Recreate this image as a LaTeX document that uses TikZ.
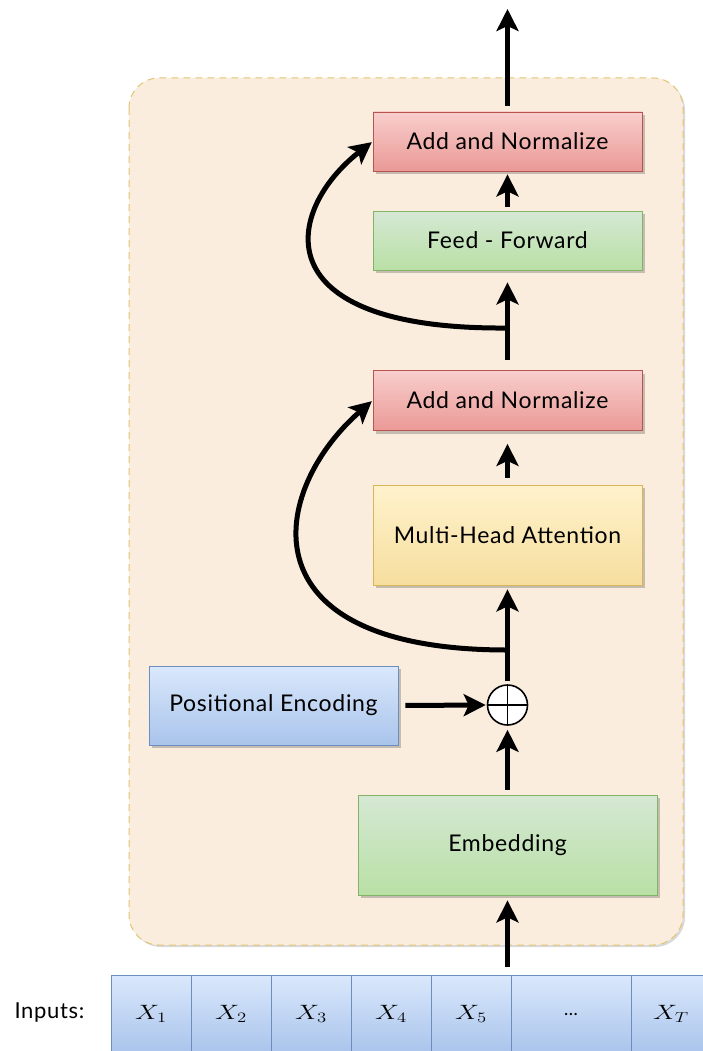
\documentclass[tikz,border=0pt]{standalone}
\usepackage{fontspec}
\setmainfont{Lato}[LetterSpace=3]
\usepackage{graphicx}
\usetikzlibrary{arrows.meta,shadows}
\definecolor{framefill}{RGB}{250,237,222}
\definecolor{framedraw}{RGB}{226,196,112}
\definecolor{redT}{RGB}{248,206,204}
\definecolor{redB}{RGB}{234,153,150}
\definecolor{redD}{RGB}{184,84,80}
\definecolor{grnT}{RGB}{213,232,212}
\definecolor{grnB}{RGB}{185,224,165}
\definecolor{grnD}{RGB}{130,179,102}
\definecolor{ylwT}{RGB}{255,242,204}
\definecolor{ylwB}{RGB}{246,222,158}
\definecolor{ylwD}{RGB}{214,182,86}
\definecolor{bluT}{RGB}{218,232,252}
\definecolor{bluB}{RGB}{169,196,235}
\definecolor{bluD}{RGB}{108,142,191}
\newcommand{\mx}[1]{\scalebox{1.3}[1]{$#1$}}
\tikzset{
  shad/.style={drop shadow={shadow xshift=3pt,shadow yshift=-3pt,opacity=0.3,fill=black!70}},
  box/.style={draw, line width=0.8pt, inner sep=0pt, font=\fontsize{23}{26}\selectfont, shad},
  redbox/.style={box, draw=redD, top color=redT, bottom color=redB},
  grnbox/.style={box, draw=grnD, top color=grnT, bottom color=grnB},
  ylwbox/.style={box, draw=ylwD, top color=ylwT, bottom color=ylwB},
  blubox/.style={box, draw=bluD, top color=bluT, bottom color=bluB},
  cell/.style={draw=bluD, line width=0.8pt, top color=bluT, bottom color=bluB, inner sep=0pt, font=\fontsize{22}{26}\selectfont},
  arr/.style={line width=5pt, -{Stealth[length=22pt,width=22pt,inset=5pt]}},
  frame/.style={draw=framedraw, line width=1pt, dash pattern=on 7pt off 5pt, fill=framefill, rounded corners=30pt,
    drop shadow={shadow xshift=2pt,shadow yshift=-2pt,opacity=0.25,fill=black!60}},
  lbl/.style={font=\fontsize{22}{26}\selectfont}
}
\begin{document}
\begin{tikzpicture}[x=1pt,y=-1pt]
\useasboundingbox (0,0) rectangle (702,1051);
\path[frame] (129,78) rectangle (683,945);

\node[redbox, minimum width=269pt, minimum height=59pt] (an1) at (507.5,141.5) {Add and Normalize};
\node[grnbox, minimum width=269pt, minimum height=59pt] (ff) at (507.5,240.5) {Feed - Forward};
\node[redbox, minimum width=269pt, minimum height=60pt] (an2) at (507.5,400.5) {Add and Normalize};
\node[ylwbox, minimum width=269pt, minimum height=100pt] (mha) at (507.5,535) {Multi-Head Attention};
\node[blubox, minimum width=249pt, minimum height=79pt] (pe) at (273.5,705.5) {Positional Encoding};
\node[draw, fill=white, circle, line width=1.6pt, minimum size=40pt, inner sep=0pt] (plus) at (507.5,705) {};
\draw[line width=1.2pt] (plus.north) -- (plus.south) (plus.west) -- (plus.east);
\node[grnbox, minimum width=299pt, minimum height=100pt] (emb) at (507.5,845) {Embedding};

% inputs
\node[lbl, anchor=west] (inlbl) at (11,1012) {Inputs:};
\node[cell, minimum width=80pt, minimum height=78pt] (c1) at (151,1014) {\mx{X_1}};
\node[cell, minimum width=80pt, minimum height=78pt] (c2) at (231,1014) {\mx{X_2}};
\node[cell, minimum width=80pt, minimum height=78pt] (c3) at (311,1014) {\mx{X_3}};
\node[cell, minimum width=80pt, minimum height=78pt] (c4) at (391,1014) {\mx{X_4}};
\node[cell, minimum width=80pt, minimum height=78pt] (c5) at (471,1014) {\mx{X_5}};
\node[cell, minimum width=120pt, minimum height=78pt, font=\fontsize{18}{20}\selectfont] (c6) at (571,1014) {...};
\node[cell, minimum width=80pt, minimum height=78pt] (c7) at (671,1014) {\mx{X_T}};

\coordinate (out) at (507.5,9);
\coordinate (inp) at (507.5,974);
\coordinate (b1) at (507.5,328);
\coordinate (b2) at (507.5,650);

\draw[arr, shorten <=6pt] (an1.north) -- (out);
\draw[arr, shorten <=4pt, shorten >=3pt] (ff.north) -- (an1.south);
\draw[arr, shorten <=10pt, shorten >=12pt] (an2.north) -- (ff.south);
\draw[arr, shorten <=7pt, shorten >=13pt] (mha.north) -- (an2.south);
\draw[arr, shorten <=3pt, shorten >=4pt] (plus.north) -- (mha.south);
\draw[arr, shorten <=7pt, shorten >=1pt] (pe.east) -- (plus.west);
\draw[arr, shorten <=5pt, shorten >=4pt] (emb.north) -- (plus.south);
\draw[arr, shorten <=7pt, shorten >=5pt] (inp) -- (emb.south);

\draw[arr, shorten >=1pt] (b1) .. controls (260,330) and (285,210) .. (an1.west);
\draw[arr, shorten >=1pt] (b2) .. controls (240,650) and (270,490) .. (an2.west);
\end{tikzpicture}
\end{document}
